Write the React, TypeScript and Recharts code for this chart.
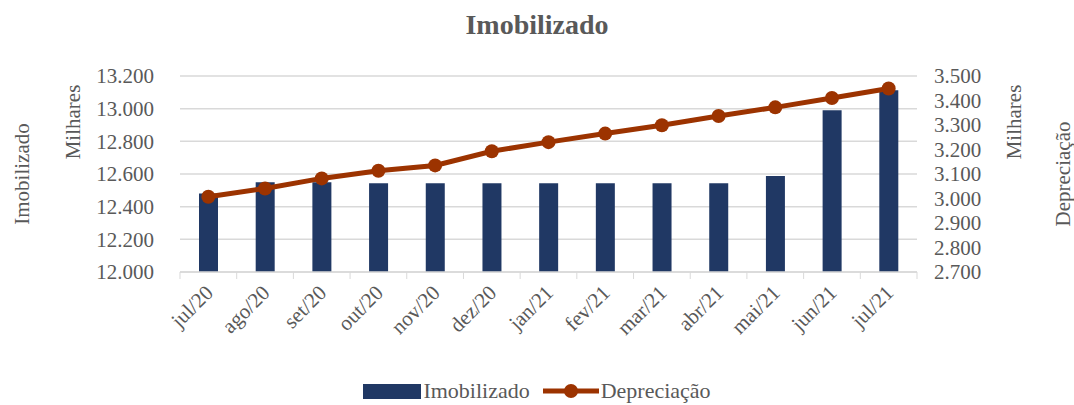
import React from 'react'
import {
    ComposedChart,
    Bar,
    Line,
    XAxis,
    YAxis,
    CartesianGrid
} from 'recharts'

const months = [
    'jul/20', 'ago/20', 'set/20', 'out/20', 'nov/20', 'dez/20', 'jan/21',
    'fev/21', 'mar/21', 'abr/21', 'mai/21', 'jun/21', 'jul/21'
]
const imobilizado = [12481, 12550, 12550, 12544, 12544, 12544, 12544, 12544, 12544, 12544, 12587, 12990, 13113]
const depreciacao = [3007, 3041, 3082, 3113, 3135, 3193, 3230, 3265, 3299, 3337, 3372, 3410, 3449]
const leftTicks = [12000, 12200, 12400, 12600, 12800, 13000, 13200]
const rightTicks = [2700, 2800, 2900, 3000, 3100, 3200, 3300, 3400, 3500]

const data = months.map((m, i) => ({ m, imobilizado: imobilizado[i], depreciacao: depreciacao[i] }))

const FONT = '"Liberation Serif", "DejaVu Serif", serif'
const GREY = '#595959'
const NAVY = '#203864'
const RUST = '#9c3300'
const HALF_BAND = 28.35

const fmt = (v: number) => (v / 1000).toFixed(3)

const MonthTick = (props: any) => {
    const { x, y, payload, index } = props
    const tx = x + 6
    const ty = y + 22
    return (
        <g>
            <line x1={x - HALF_BAND} y1={y} x2={x - HALF_BAND} y2={y + 7} stroke="#d9d9d9" />
            {index === months.length - 1 &&
                <line x1={x + HALF_BAND} y1={y} x2={x + HALF_BAND} y2={y + 7} stroke="#d9d9d9" />}
            <text x={tx} y={ty} transform={`rotate(-45 ${tx} ${ty})`} textAnchor="end"
                fill={GREY} fontSize={21} fontFamily={FONT}>{payload.value}</text>
        </g>
    )
}

const LeftTitle = (props: any) => {
    const { viewBox } = props
    const cy = viewBox.y + viewBox.height / 2
    return (
        <g fill={GREY} fontSize={21} fontFamily={FONT} textAnchor="middle">
            <text x={22} y={cy} transform={`rotate(-90 22 ${cy})`} dominantBaseline="central">Imobilizado</text>
            <text x={73} y={122} transform={`rotate(-90 73 122)`} dominantBaseline="central">Milhares</text>
        </g>
    )
}

const RightTitle = (props: any) => {
    const { viewBox } = props
    const cy = viewBox.y + viewBox.height / 2
    return (
        <g fill={GREY} fontSize={21} fontFamily={FONT} textAnchor="middle">
            <text x={1063} y={cy} transform={`rotate(-90 1063 ${cy})`} dominantBaseline="central">Depreciação</text>
            <text x={1014} y={122} transform={`rotate(-90 1014 122)`} dominantBaseline="central">Milhares</text>
        </g>
    )
}

export default function App() {
    return (
        <div style={{ position: 'absolute', left: 0, top: 0, width: 1074, height: 405, overflow: 'hidden', fontFamily: FONT }}>
            <div style={{ position: 'absolute', top: 9, width: 1074, textAlign: 'center', fontSize: 28, fontWeight: 'bold', color: GREY }}>
                Imobilizado
            </div>
            <ComposedChart width={1074} height={405} data={data}
                margin={{ top: 76, right: 0, bottom: 53, left: 0 }}>
                <CartesianGrid horizontal vertical={false} stroke="#d9d9d9" strokeWidth={1.5} yAxisId="left" />
                <XAxis dataKey="m" height={80} tickLine={false} tickSize={0} tickMargin={0}
                    axisLine={{ stroke: '#d9d9d9', strokeWidth: 1.5 }} tick={<MonthTick />} interval={0} />
                <YAxis yAxisId="left" width={180} domain={[12000, 13200]} ticks={leftTicks} interval={0}
                    tickFormatter={fmt} axisLine={false} tickLine={false} tickSize={0} tickMargin={26}
                    tick={{ fill: GREY, fontSize: 21, fontFamily: FONT }} label={<LeftTitle />} />
                <YAxis yAxisId="right" orientation="right" width={157} domain={[2700, 3500]} ticks={rightTicks} interval={0}
                    tickFormatter={fmt} axisLine={false} tickLine={false} tickSize={0} tickMargin={17}
                    tick={{ fill: GREY, fontSize: 21, fontFamily: FONT, textAnchor: 'start' }} label={<RightTitle />} />
                <Bar yAxisId="left" dataKey="imobilizado" fill={NAVY} barSize={19} isAnimationActive={false} />
                <Line yAxisId="right" dataKey="depreciacao" stroke={RUST} strokeWidth={5}
                    dot={{ r: 7, fill: RUST, stroke: RUST, strokeWidth: 0 }} isAnimationActive={false} />
            </ComposedChart>
            <div style={{ position: 'absolute', top: 379, left: 0, width: 1074, display: 'flex', justifyContent: 'center', alignItems: 'center', fontSize: 22, color: GREY, lineHeight: '24px' }}>
                <span style={{ display: 'inline-block', width: 58, height: 15, background: NAVY, marginRight: 2 }} />
                <span>Imobilizado</span>
                <svg width={56} height={16} style={{ marginLeft: 13, marginRight: 2 }}>
                    <line x1={0} y1={8} x2={56} y2={8} stroke={RUST} strokeWidth={5} />
                    <circle cx={28} cy={8} r={7} fill={RUST} />
                </svg>
                <span>Depreciação</span>
            </div>
        </div>
    )
}
